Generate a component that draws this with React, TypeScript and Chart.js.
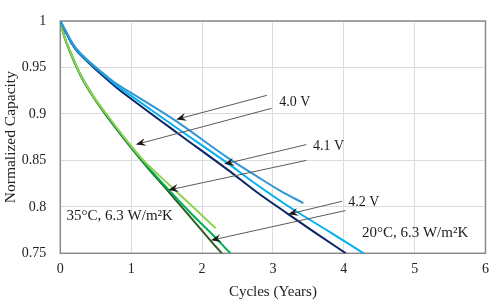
import { useEffect, useRef } from "react";
import { Chart, registerables } from "chart.js";

Chart.register(...registerables);

const FONT = "'Liberation Serif', 'Times New Roman', serif";

const xTicks = [0, 1, 2, 3, 4, 5, 6];
const yTicks = [0.75, 0.8, 0.85, 0.9, 0.95, 1];

// 20°C, 6.3 W/m²K
const b40X = [0, 0.07, 0.15, 0.23, 0.4, 0.6, 0.8, 0.97, 1.64, 2.36, 2.77, 3.1, 3.43];
const b40Y = [1, 0.99, 0.979, 0.97, 0.957, 0.944, 0.932, 0.924, 0.892, 0.853, 0.833, 0.8175, 0.804];
const b41X = [0, 0.07, 0.15, 0.23, 0.4, 0.6, 0.8, 0.97, 1.66, 2.36, 2.77, 3.25, 3.8, 4.28];
const b41Y = [1, 0.99, 0.978, 0.969, 0.956, 0.943, 0.93, 0.921, 0.884, 0.847, 0.824, 0.799, 0.773, 0.75];
const b42X = [0, 0.07, 0.15, 0.23, 0.4, 0.6, 0.8, 0.97, 1.66, 2.36, 2.77, 3.2, 3.6, 4.03];
const b42Y = [1, 0.989, 0.977, 0.968, 0.955, 0.941, 0.928, 0.918, 0.879, 0.84, 0.816, 0.793, 0.772, 0.75];

// 35°C, 6.3 W/m²K
const g40X = [0, 0.05, 0.135, 0.274, 0.458, 0.69, 0.922, 1.2, 1.52, 1.87, 2.19];
const g40Y = [1, 0.985, 0.968, 0.944, 0.92, 0.896, 0.873, 0.848, 0.825, 0.8, 0.777];
const g41X = [0, 0.05, 0.135, 0.274, 0.458, 0.69, 0.922, 1.2, 1.52, 1.87, 2.15, 2.4];
const g41Y = [1, 0.985, 0.968, 0.944, 0.92, 0.895, 0.872, 0.846, 0.819, 0.791, 0.77, 0.75];
const g42X = [0, 0.05, 0.135, 0.274, 0.458, 0.69, 0.922, 1.2, 1.52, 1.87, 2.15, 2.28];
const g42Y = [1, 0.985, 0.967, 0.943, 0.919, 0.894, 0.871, 0.845, 0.817, 0.786, 0.761, 0.75];

const seriesX = [b40X, b41X, b42X, g40X, g41X, g42X];
const seriesY = [b40Y, b41Y, b42Y, g40Y, g41Y, g42Y];
const seriesNames = ["20°C 4.0 V", "20°C 4.1 V", "20°C 4.2 V", "35°C 4.0 V", "35°C 4.1 V", "35°C 4.2 V"];
const seriesColors = ["#2f97d6", "#00b0f0", "#0b2465", "#8fd14f", "#00b050", "#2f5a22"];

// annotation arrows (data coordinates)
const arrowFromX = [2.915, 2.982, 3.472, 3.472, 3.978, 4.024];
const arrowFromY = [0.92, 0.906, 0.867, 0.85, 0.806, 0.796];
const arrowToX = [1.635, 1.065, 2.311, 1.524, 3.214, 2.125];
const arrowToY = [0.894, 0.867, 0.846, 0.818, 0.792, 0.764];

const noteTexts = ["4.0 V", "4.1 V", "4.2 V", "35°C, 6.3 W/m²K", "20°C, 6.3 W/m²K"];
const noteX = [3.09, 3.566, 4.065, 0.089, 4.256];
const noteY = [0.9125, 0.8646, 0.8044, 0.79, 0.772];
const noteSizes = [14, 14, 14, 15, 15];

const framePlugin = {
  id: "frame",
  beforeDatasetsDraw(chart: any) {
    const { ctx, chartArea } = chart;
    ctx.save();
    ctx.strokeStyle = "#8a8a8a";
    ctx.lineWidth = 1.5;
    ctx.strokeRect(chartArea.left, chartArea.top, chartArea.right - chartArea.left, chartArea.bottom - chartArea.top);
    ctx.restore();
  },
};

const notesPlugin = {
  id: "notes",
  afterDatasetsDraw(chart: any) {
    const { ctx, scales } = chart;
    const sx = scales.x;
    const sy = scales.y;
    ctx.save();
    for (let i = 0; i < arrowFromX.length; i++) {
      const x1 = sx.getPixelForValue(arrowFromX[i]);
      const y1 = sy.getPixelForValue(arrowFromY[i]);
      const x2 = sx.getPixelForValue(arrowToX[i]);
      const y2 = sy.getPixelForValue(arrowToY[i]);
      const len = Math.hypot(x2 - x1, y2 - y1);
      const dx = (x2 - x1) / len;
      const dy = (y2 - y1) / len;
      const nx = -dy;
      const ny = dx;
      ctx.strokeStyle = "#5a5a5a";
      ctx.lineWidth = 1;
      ctx.beginPath();
      ctx.moveTo(x1, y1);
      ctx.lineTo(x2 - dx * 6, y2 - dy * 6);
      ctx.stroke();
      const hl = 10;
      const hw = 4;
      ctx.fillStyle = "#1a1a1a";
      ctx.beginPath();
      ctx.moveTo(x2, y2);
      ctx.lineTo(x2 - dx * hl + nx * hw, y2 - dy * hl + ny * hw);
      ctx.lineTo(x2 - dx * 6.5, y2 - dy * 6.5);
      ctx.lineTo(x2 - dx * hl - nx * hw, y2 - dy * hl - ny * hw);
      ctx.closePath();
      ctx.fill();
    }
    ctx.fillStyle = "#1a1a1a";
    ctx.textAlign = "left";
    ctx.textBaseline = "middle";
    for (let i = 0; i < noteTexts.length; i++) {
      ctx.font = `${noteSizes[i]}px ${FONT}`;
      ctx.fillText(noteTexts[i], sx.getPixelForValue(noteX[i]), sy.getPixelForValue(noteY[i]));
    }
    ctx.restore();
  },
};

export default function App() {
  const ref = useRef<HTMLCanvasElement | null>(null);
  useEffect(() => {
    if (!ref.current) return;
    const datasets = seriesX.map((xs, i) => ({
      label: seriesNames[i],
      data: xs.map((x, j) => ({ x, y: seriesY[i][j] })),
      borderColor: seriesColors[i],
      backgroundColor: seriesColors[i],
      borderWidth: 2,
      pointRadius: 0,
      fill: false,
      cubicInterpolationMode: "monotone" as const,
    }));
    const chart = new Chart(ref.current, {
      type: "line",
      data: { datasets },
      plugins: [framePlugin, notesPlugin],
      options: {
        animation: false,
        responsive: false,
        maintainAspectRatio: false,
        layout: { padding: { left: 0, right: 5.3, top: 8.3, bottom: 0 } },
        plugins: { legend: { display: false }, tooltip: { enabled: false } },
        scales: {
          x: {
            type: "linear",
            min: 0,
            max: 6,
            afterFit: (s: any) => {
              s.height = 48.7;
            },
            afterBuildTicks: (s: any) => {
              s.ticks = xTicks.map((v) => ({ value: v }));
            },
            ticks: {
              padding: 9,
              autoSkip: false,
              maxRotation: 0,
              color: "#222",
              font: { family: FONT, size: 14, lineHeight: 1 },
              callback: (v: any) => String(v),
            },
            grid: { color: "#dcdcdc", drawTicks: false, lineWidth: 1 },
            border: { display: false },
            title: {
              display: true,
              text: "Cycles (Years)",
              color: "#222",
              font: { family: FONT, size: 15 },
              padding: { top: 0, bottom: 1.3 },
            },
          },
          y: {
            type: "linear",
            min: 0.75,
            max: 1,
            afterFit: (s: any) => {
              s.width = 60.3;
            },
            afterBuildTicks: (s: any) => {
              s.ticks = yTicks.map((v) => ({ value: v }));
            },
            ticks: {
              padding: 14,
              autoSkip: false,
              color: "#222",
              font: { family: FONT, size: 14, lineHeight: 1 },
              callback: (v: any) => String(Number(Number(v).toFixed(2))),
            },
            grid: { color: "#dcdcdc", drawTicks: false, lineWidth: 1 },
            border: { display: false },
            title: {
              display: true,
              text: "Normalized Capacity",
              color: "#222",
              font: { family: FONT, size: 15.5 },
              padding: { top: 1.6, bottom: 0 },
            },
          },
        },
      },
    });
    return () => chart.destroy();
  }, []);
  return (
    <div style={{ position: "absolute", left: 0, top: 0, width: 498, height: 302, background: "#fff" }}>
      <canvas ref={ref} width={498} height={302} style={{ display: "block", width: 498, height: 302 }} />
    </div>
  );
}
